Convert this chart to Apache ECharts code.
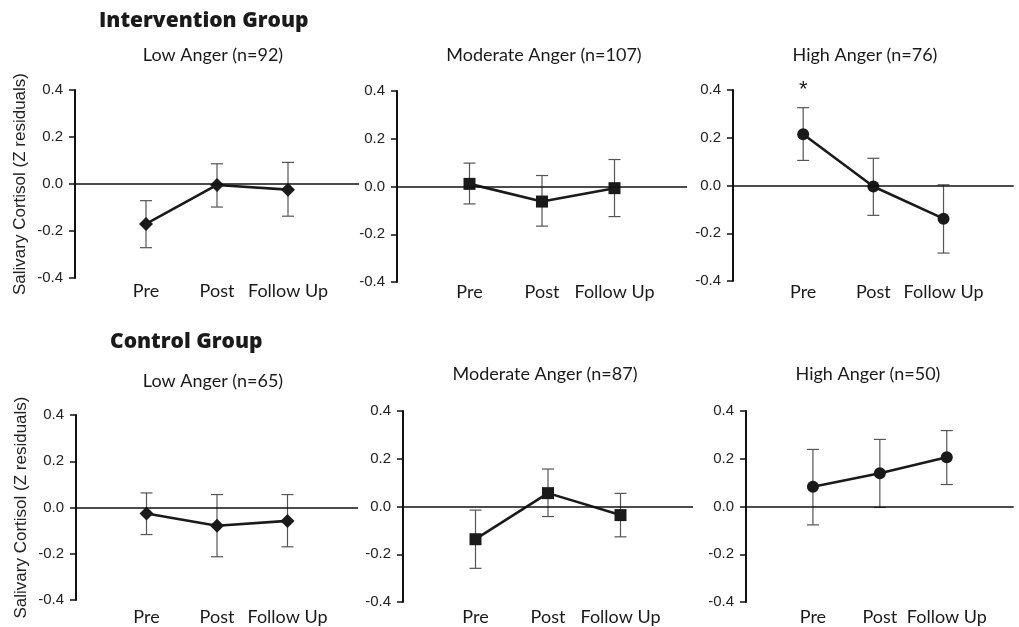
<!DOCTYPE html>
<html>
<head>
<meta charset="utf-8">
<script src="https://cdn.jsdelivr.net/npm/echarts@6/dist/echarts.min.js"></script>
<style>
html,body{margin:0;padding:0;background:#fff;}
#chart{width:1019px;height:627px;}
</style>
</head>
<body>
<div id="chart"></div>
<script>
const phases = ['Pre', 'Post', 'Follow Up'];
const yTicks = [-0.4, -0.2, 0.0, 0.2, 0.4];
const groupTitles = ['Intervention Group', 'Control Group'];
const panelTitles = ['Low Anger (n=92)', 'Moderate Anger (n=107)', 'High Anger (n=76)',
                     'Low Anger (n=65)', 'Moderate Anger (n=87)', 'High Anger (n=50)'];
const yAxisTitle = 'Salivary Cortisol (Z residuals)';

// Intervention group
const intLowMean  = [-0.170, -0.004, -0.024];
const intLowHi    = [-0.071,  0.086,  0.092];
const intLowLo    = [-0.271, -0.098, -0.137];
const intModMean  = [ 0.011, -0.063, -0.007];
const intModHi    = [ 0.098,  0.046,  0.113];
const intModLo    = [-0.073, -0.166, -0.126];
const intHighMean = [ 0.215, -0.004, -0.139];
const intHighHi   = [ 0.326,  0.114,  0.003];
const intHighLo   = [ 0.105, -0.125, -0.283];
// Control group
const ctlLowMean  = [-0.026, -0.079, -0.058];
const ctlLowHi    = [ 0.063,  0.056,  0.056];
const ctlLowLo    = [-0.117, -0.213, -0.170];
const ctlModMean  = [-0.137,  0.056, -0.036];
const ctlModHi    = [-0.015,  0.157,  0.055];
const ctlModLo    = [-0.259, -0.042, -0.127];
const ctlHighMean = [ 0.083,  0.139,  0.206];
const ctlHighHi   = [ 0.239,  0.281,  0.318];
const ctlHighLo   = [-0.077, -0.004,  0.092];

const significant = ['Pre']; // intervention high anger

const panels = [
  {mean:intLowMean,  hi:intLowHi,  lo:intLowLo,  symbol:'diamond', size:14},
  {mean:intModMean,  hi:intModHi,  lo:intModLo,  symbol:'rect',    size:12},
  {mean:intHighMean, hi:intHighHi, lo:intHighLo, symbol:'circle',  size:12},
  {mean:ctlLowMean,  hi:ctlLowHi,  lo:ctlLowLo,  symbol:'diamond', size:14},
  {mean:ctlModMean,  hi:ctlModHi,  lo:ctlModLo,  symbol:'rect',    size:12},
  {mean:ctlHighMean, hi:ctlHighHi, lo:ctlHighLo, symbol:'circle',  size:12}
];

const gridBoxes = [
  {left:75,  top:90,  width:284, height:188},
  {left:397, top:91,  width:290, height:191},
  {left:733, top:90,  width:290, height:191},
  {left:76,  top:415, width:282, height:185},
  {left:403, top:411, width:290, height:191},
  {left:746, top:411, width:288, height:191}
];
const labelMargins = [4, 1, 2, 8, 6, 6];
const titlePos = [[213,55],[544,55],[865,55],[213,381],[545,374],[868,374]];
const groupPos = [[99,21],[110,342]];

const cats = [''].concat(phases).concat([' ']);
const sansFont = 'Lato, "Open Sans", sans-serif';
const boldFont = '"Open Sans", Lato, sans-serif';
const numFont = '"Liberation Sans", Arial, sans-serif';

const grids = [], xAxes = [], yAxes = [], series = [], titles = [];

groupTitles.forEach((t, i) => {
  titles.push({text:t, left:groupPos[i][0], top:groupPos[i][1], padding:0,
    textAlign:'left', textVerticalAlign:'middle',
    textStyle:{fontFamily:boldFont, fontWeight:800, fontSize:21, color:'#1a1a1a'}});
});
panelTitles.forEach((t, i) => {
  titles.push({text:t, left:titlePos[i][0], top:titlePos[i][1], padding:0,
    textAlign:'center', textVerticalAlign:'middle',
    textStyle:{fontFamily:sansFont, fontWeight:'normal', fontSize:18, color:'#1a1a1a'}});
});

panels.forEach((p, i) => {
  grids.push(Object.assign({containLabel:false}, gridBoxes[i]));
  xAxes.push({
    type:'category', gridIndex:i, data:cats, boundaryGap:false,
    axisLine:{show:false, onZero:false}, axisTick:{show:false},
    axisLabel:{interval:0, margin:labelMargins[i], fontFamily:sansFont, fontSize:18, color:'#1a1a1a'},
    splitLine:{show:false}
  });
  yAxes.push({
    type:'value', gridIndex:i, min:yTicks[0], max:yTicks[yTicks.length-1], interval:0.2,
    axisLine:{show:true, onZero:false, lineStyle:{color:'#111', width:2}},
    axisTick:{show:true, length:6, lineStyle:{color:'#111', width:1.5}},
    axisLabel:{margin:12, fontFamily:numFont, fontSize:15, color:'#222',
      formatter:v => v.toFixed(1)},
    splitLine:{show:false},
    name:(i % 3 === 0) ? yAxisTitle : '',
    nameLocation:'middle', nameGap:46,
    nameTextStyle:{fontFamily:numFont, fontSize:17, color:'#222'}
  });
  // error bars
  series.push({
    type:'custom', xAxisIndex:i, yAxisIndex:i, z:1, silent:true,
    data:phases.map((ph, k) => [ph, p.hi[k], p.lo[k]]),
    encode:{x:0, y:[1,2]},
    renderItem:(params, api) => {
      const x = api.value(0);
      const a = api.coord([x, api.value(1)]);
      const b = api.coord([x, api.value(2)]);
      const w = 6;
      const st = {stroke:'#555', lineWidth:1.2};
      return {type:'group', children:[
        {type:'line', shape:{x1:a[0], y1:a[1], x2:b[0], y2:b[1]}, style:st},
        {type:'line', shape:{x1:a[0]-w, y1:a[1], x2:a[0]+w, y2:a[1]}, style:st},
        {type:'line', shape:{x1:b[0]-w, y1:b[1], x2:b[0]+w, y2:b[1]}, style:st}
      ]};
    }
  });
  const lineSeries = {
    type:'line', xAxisIndex:i, yAxisIndex:i, z:3,
    data:phases.map((ph, k) => [ph, p.mean[k]]),
    symbol:p.symbol, symbolSize:p.size,
    lineStyle:{color:'#1a1a1a', width:2.6},
    itemStyle:{color:'#1a1a1a'},
    markLine:{silent:true, symbol:'none', label:{show:false},
      lineStyle:{color:'#111', width:1.5, type:'solid'},
      data:[{yAxis:0}]}
  };
  if (i === 2) {
    lineSeries.markPoint = {
      symbol:'circle', symbolSize:0,
      data:significant.map(ph => ({coord:[ph, 0.4], value:'*'})),
      label:{show:true, formatter:'*', fontFamily:numFont, fontSize:22, color:'#1a1a1a', offset:[0,0]}
    };
  }
  series.push(lineSeries);
});

const chart = echarts.init(document.getElementById('chart'), null, {renderer:'canvas'});
chart.setOption({
  animation:false,
  backgroundColor:'#fff',
  title:titles,
  grid:grids,
  xAxis:xAxes,
  yAxis:yAxes,
  series:series
});
</script>
</body>
</html>
